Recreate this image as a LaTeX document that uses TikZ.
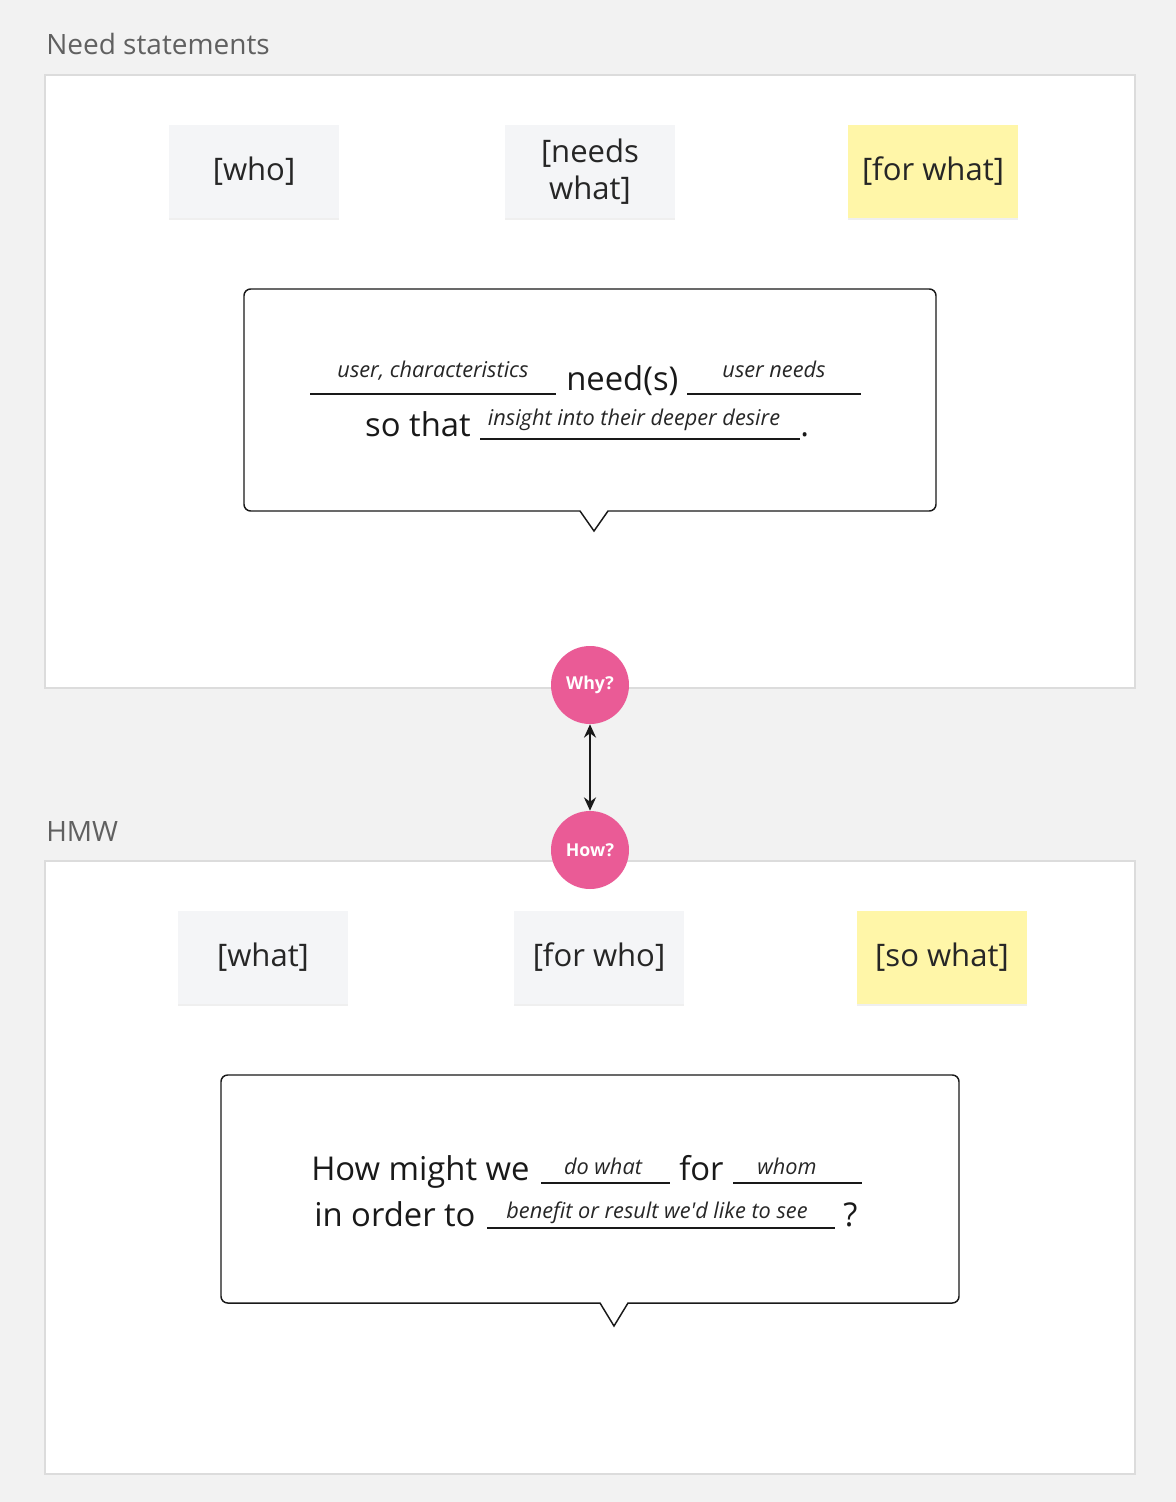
\documentclass[tikz,border=0pt]{standalone}
\usepackage{fontspec}
\setmainfont{Open Sans}
\usetikzlibrary{arrows.meta, shadows}

\definecolor{boardbg}{HTML}{F2F2F2}
\definecolor{panelline}{HTML}{DCDCDC}
\definecolor{stickygray}{HTML}{F4F5F7}
\definecolor{stickyyellow}{HTML}{FFF6A8}
\definecolor{askpink}{HTML}{EA5B96}
\definecolor{labelgray}{HTML}{606060}

\tikzset{
  panel/.style={fill=white, draw=panelline, line width=1pt},
  title/.style={anchor=base west, inner sep=0pt, text=labelgray, font=\fontsize{21}{25}\selectfont},
  sticky/.style={fill=stickygray, minimum width=127.5pt, minimum height=69.75pt, inner sep=2pt,
    align=center, font=\fontsize{23.3}{27.75}\selectfont, text=black!85,
    drop shadow={opacity=0.12, shadow xshift=0pt, shadow yshift=-1.5pt}},
  bubble/.style={fill=white, draw=black!90, line width=1.1pt},
  said/.style={inner sep=0pt, font=\fontsize{24.6}{28}\selectfont, text=black!90},
  hint/.style={anchor=base, inner sep=0pt, font=\itshape\fontsize{16.3}{18}\selectfont, text=black!85},
  blank/.style={line width=1pt, black!90},
  ask/.style={circle, fill=askpink, minimum size=58.5pt, inner sep=0pt, text=white,
    font=\bfseries\fontsize{13.3}{15}\selectfont}
}

\begin{document}
\begin{tikzpicture}[x=0.75pt, y=-0.75pt]
  \fill[boardbg] (0,0) rectangle (1176,1502);
  \useasboundingbox (0,0) rectangle (1176,1502);

  % need statements
  \node[title] (needtitle) at (46,55) {Need statements};
  \draw[panel] (45,75) rectangle (1135,688);
  \node[sticky] (who) at (254,171.5) {[who]};
  \node[sticky] (needswhat) at (590,171.5) {[needs\\what]};
  \node[sticky, fill=stickyyellow] (forwhat) at (933,171.5) {[for what]};

  \draw[bubble] (580,511) -- (594,531) -- (608,511) [rounded corners=5pt] -- (936,511) -- (936,289)
    -- (244,289) -- (244,511) [sharp corners] -- cycle;
  \draw[blank] (310,394) -- (556,394);
  \node[hint] (usertext) at (433,377) {user, characteristics};
  \node[said, anchor=base west] (needs) at (566,390) {need(s)};
  \draw[blank] (687,394) -- (861,394);
  \node[hint] (needtext) at (774,377) {user needs};
  \node[said, anchor=base east] (sothat) at (471,436) {so that};
  \draw[blank] (480,439) -- (800,439);
  \node[hint] (desiretext) at (634,425) {insight into their deeper desire};
  \node[said, anchor=base west] (stop) at (800,436) {.};

  % hmw
  \node[title] (hmwtitle) at (46,841) {HMW};
  \draw[panel] (45,861) rectangle (1135,1474);
  \node[sticky] (what) at (263,957.5) {[what]};
  \node[sticky] (forwho) at (599,957.5) {[for who]};
  \node[sticky, fill=stickyyellow] (sowhat) at (942,957.5) {[so what]};

  \draw[bubble] (600,1303) -- (614,1326) -- (628,1303) [rounded corners=5pt] -- (959,1303) -- (959,1075)
    -- (221,1075) -- (221,1303) [sharp corners] -- cycle;
  \node[said, anchor=base west] (howmight) at (311,1180) {How might we};
  \draw[blank] (541,1183) -- (670,1183);
  \node[hint] (dotext) at (603,1174) {do what};
  \node[said, anchor=base west] (for) at (679,1180) {for};
  \draw[blank] (733,1183) -- (862,1183);
  \node[hint] (whomtext) at (787,1174) {whom};
  \node[said, anchor=base west] (inorder) at (314,1226) {in order to};
  \draw[blank] (487,1228) -- (835,1228);
  \node[hint] (benefittext) at (657,1218) {benefit or result we\textquotesingle d like to see};
  \node[said, anchor=base west] (qmark) at (843,1226) {?};

  \node[ask] (why) at (590,685) {Why?};
  \node[ask] (how) at (590,850) {How?};
  \draw[{Stealth[length=10pt,width=9pt]}-{Stealth[length=10pt,width=9pt]}, line width=1.5pt, black!90]
    (why) -- (how);
\end{tikzpicture}
\end{document}
